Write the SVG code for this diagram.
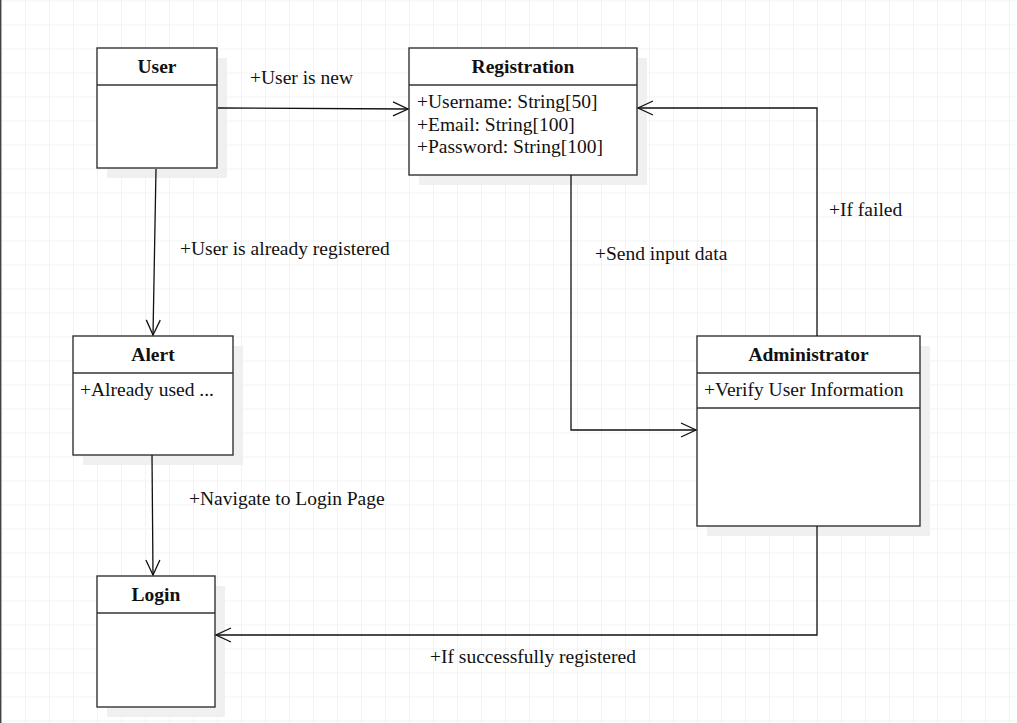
<svg xmlns="http://www.w3.org/2000/svg" width="1017" height="723" viewBox="0 0 1017 723">
<defs>
<pattern id="grid" x="1" y="0.5" width="24" height="24" patternUnits="userSpaceOnUse">
<path d="M0,0 H24 M0,0 V24" fill="none" stroke="#e8e8e8" stroke-width="1"/>
</pattern>
<marker id="arr" markerWidth="20" markerHeight="18" refX="16" refY="8" orient="auto" markerUnits="userSpaceOnUse" viewBox="0 0 20 16">
<path d="M1,1 L16,8 L1,15" fill="none" stroke="#111" stroke-width="1.3"/>
</marker>
</defs>
<style>
.box{fill:#fff;stroke:#333;stroke-width:1.4}
.shadow{fill:#f0f0f0}
.div{stroke:#333;stroke-width:1.4}
.title{font-family:"Liberation Serif",serif;font-size:19.5px;font-weight:bold;fill:#111;text-anchor:middle}
.attr{font-family:"Liberation Serif",serif;font-size:19.5px;fill:#111}
.lbl{font-family:"Liberation Serif",serif;font-size:19.5px;fill:#111}
.conn{fill:none;stroke:#111;stroke-width:1.3;marker-end:url(#arr)}
</style>
<rect width="1017" height="723" fill="#fff"/>
<rect width="1017" height="723" fill="url(#grid)"/>
<line x1="0.7" y1="0" x2="0.7" y2="723" stroke="#444" stroke-width="1.4"/>

<g id="user">
<rect class="shadow" x="107" y="58" width="120" height="120"/>
<rect class="box" x="97" y="48" width="120" height="120"/>
<line class="div" x1="97" y1="85" x2="217" y2="85"/>
<text class="title" x="157" y="73">User</text>
</g>

<g id="registration">
<rect class="shadow" x="419" y="58" width="228" height="127"/>
<rect class="box" x="409" y="48" width="228" height="127"/>
<line class="div" x1="409" y1="85" x2="637" y2="85"/>
<text class="title" x="523" y="73">Registration</text>
<text class="attr" x="417" y="108">+Username: String[50]</text>
<text class="attr" x="417" y="130.5">+Email: String[100]</text>
<text class="attr" x="417" y="152.5">+Password: String[100]</text>
</g>

<g id="alert">
<rect class="shadow" x="83" y="346" width="160" height="119"/>
<rect class="box" x="73" y="336" width="160" height="119"/>
<line class="div" x1="73" y1="373" x2="233" y2="373"/>
<text class="title" x="153" y="361">Alert</text>
<text class="attr" x="80" y="395.5">+Already used ...</text>
</g>

<g id="administrator">
<rect class="shadow" x="707" y="346" width="223" height="190"/>
<rect class="box" x="697" y="336" width="223" height="190"/>
<line class="div" x1="697" y1="373" x2="920" y2="373"/>
<line class="div" x1="697" y1="408" x2="920" y2="408"/>
<text class="title" x="808.5" y="361">Administrator</text>
<text class="attr" x="704" y="395.5">+Verify User Information</text>
</g>

<g id="login">
<rect class="shadow" x="107" y="586" width="118" height="131"/>
<rect class="box" x="97" y="576" width="118" height="131"/>
<line class="div" x1="97" y1="613" x2="215" y2="613"/>
<text class="title" x="156" y="601">Login</text>
</g>

<g id="connectors">
<path class="conn" d="M218,108 L408,109"/>
<path class="conn" d="M156,169 L153,335"/>
<path class="conn" d="M571,175 L571,430 L696,430"/>
<path class="conn" d="M817,336 L817,108 L638,108"/>
<path class="conn" d="M817,526 L817,635 L216,635"/>
<path class="conn" d="M152,455 L153,575"/>
<text class="lbl" x="250" y="84">+User is new</text>
<text class="lbl" x="180" y="255">+User is already registered</text>
<text class="lbl" x="595" y="260">+Send input data</text>
<text class="lbl" x="829" y="216">+If failed</text>
<text class="lbl" x="189" y="505">+Navigate to Login Page</text>
<text class="lbl" x="430" y="663">+If successfully registered</text>
</g>
</svg>
